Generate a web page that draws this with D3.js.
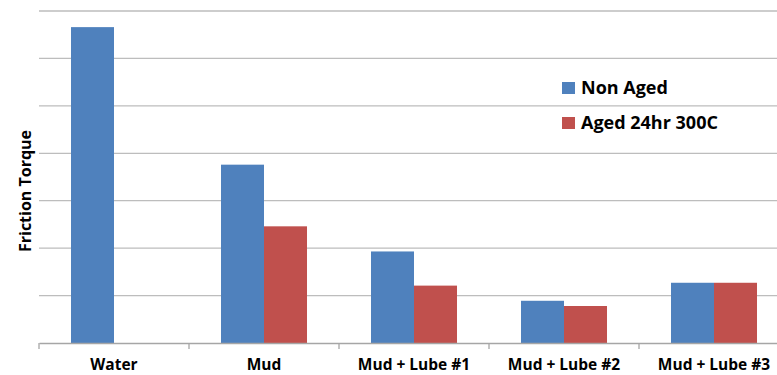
<!DOCTYPE html>
<html>
<head>
<meta charset="utf-8">
<script src="https://cdn.jsdelivr.net/npm/d3@7/dist/d3.min.js"></script>
<style>
  html, body { margin: 0; padding: 0; background: #fff; }
  svg { display: block; }
  text { font-family: "Open Sans", "Noto Sans", sans-serif; font-weight: bold; fill: #000; }
</style>
</head>
<body>
<svg id="chart" width="777" height="375"></svg>
<script>
// Friction torque per fluid, before and after ageing
const categories = ["Water", "Mud", "Mud + Lube #1", "Mud + Lube #2", "Mud + Lube #3"];
const seriesNames = ["Non Aged", "Aged 24hr 300C"];
const nonAged = [6.66, 3.76, 1.93, 0.89, 1.27];
const aged = [null, 2.46, 1.21, 0.78, 1.27];
const yTicks = [0, 1, 2, 3, 4, 5, 6, 7];
const colors = ["#4F81BD", "#C0504D"];

(function draw() {
  const svg = d3.select("#chart");
  const plotLeft = 39, plotRight = 789, plotTop = 11, plotBottom = 343;

  const x = d3.scaleBand().domain(categories).range([plotLeft, plotRight]).paddingInner(0).paddingOuter(0);
  const inner = d3.scaleBand().domain(seriesNames).range([0, x.bandwidth()]).paddingInner(0).paddingOuter(0.744);
  const y = d3.scaleLinear().domain([0, 7]).range([plotBottom, plotTop]);

  // horizontal gridlines
  svg.append("g").selectAll("line")
    .data(yTicks.slice(1))
    .join("line")
    .attr("x1", plotLeft).attr("x2", plotRight)
    .attr("y1", d => y(d)).attr("y2", d => y(d))
    .attr("stroke", "#bdbdbd").attr("stroke-width", 1.3);

  // bars
  const rows = categories.map((c, i) => ({ c, vals: [nonAged[i], aged[i]] }));
  const groups = svg.append("g").selectAll("g")
    .data(rows).join("g")
    .attr("transform", d => `translate(${x(d.c)},0)`);
  groups.selectAll("rect")
    .data(d => d.vals.map((v, k) => ({ v, k })).filter(e => e.v != null))
    .join("rect")
    .attr("x", e => inner(seriesNames[e.k]))
    .attr("width", inner.bandwidth())
    .attr("y", e => y(e.v))
    .attr("height", e => y(0) - y(e.v))
    .attr("fill", e => colors[e.k]);

  // category axis
  const xAxis = d3.axisBottom(x).tickSize(0).tickPadding(16);
  const gx = svg.append("g").attr("transform", `translate(0,${plotBottom})`).call(xAxis);
  gx.select(".domain").attr("stroke", "#a6a6a6").attr("stroke-width", 1.3);
  gx.selectAll("text").attr("font-size", 15.5).attr("font-family", "Open Sans").attr("font-weight", "bold").attr("fill", "#000");
  // boundary ticks between categories
  svg.append("g").selectAll("line")
    .data(categories.map(c => x(c)))
    .join("line")
    .attr("x1", d => d).attr("x2", d => d)
    .attr("y1", plotBottom).attr("y2", plotBottom + 6)
    .attr("stroke", "#a6a6a6").attr("stroke-width", 1.3);

  // y-axis title
  svg.append("text")
    .attr("transform", "translate(31,191) rotate(-90)")
    .attr("text-anchor", "middle")
    .attr("font-size", 16)
    .text("Friction Torque");

  // legend
  const legend = svg.append("g").selectAll("g")
    .data(seriesNames).join("g")
    .attr("transform", (d, i) => `translate(562,${82 + i * 35})`);
  legend.append("rect").attr("width", 13).attr("height", 12).attr("fill", (d, i) => colors[i]);
  legend.append("text").attr("x", 19).attr("y", 12).attr("font-size", 18).text(d => d);
})();
</script>
</body>
</html>
